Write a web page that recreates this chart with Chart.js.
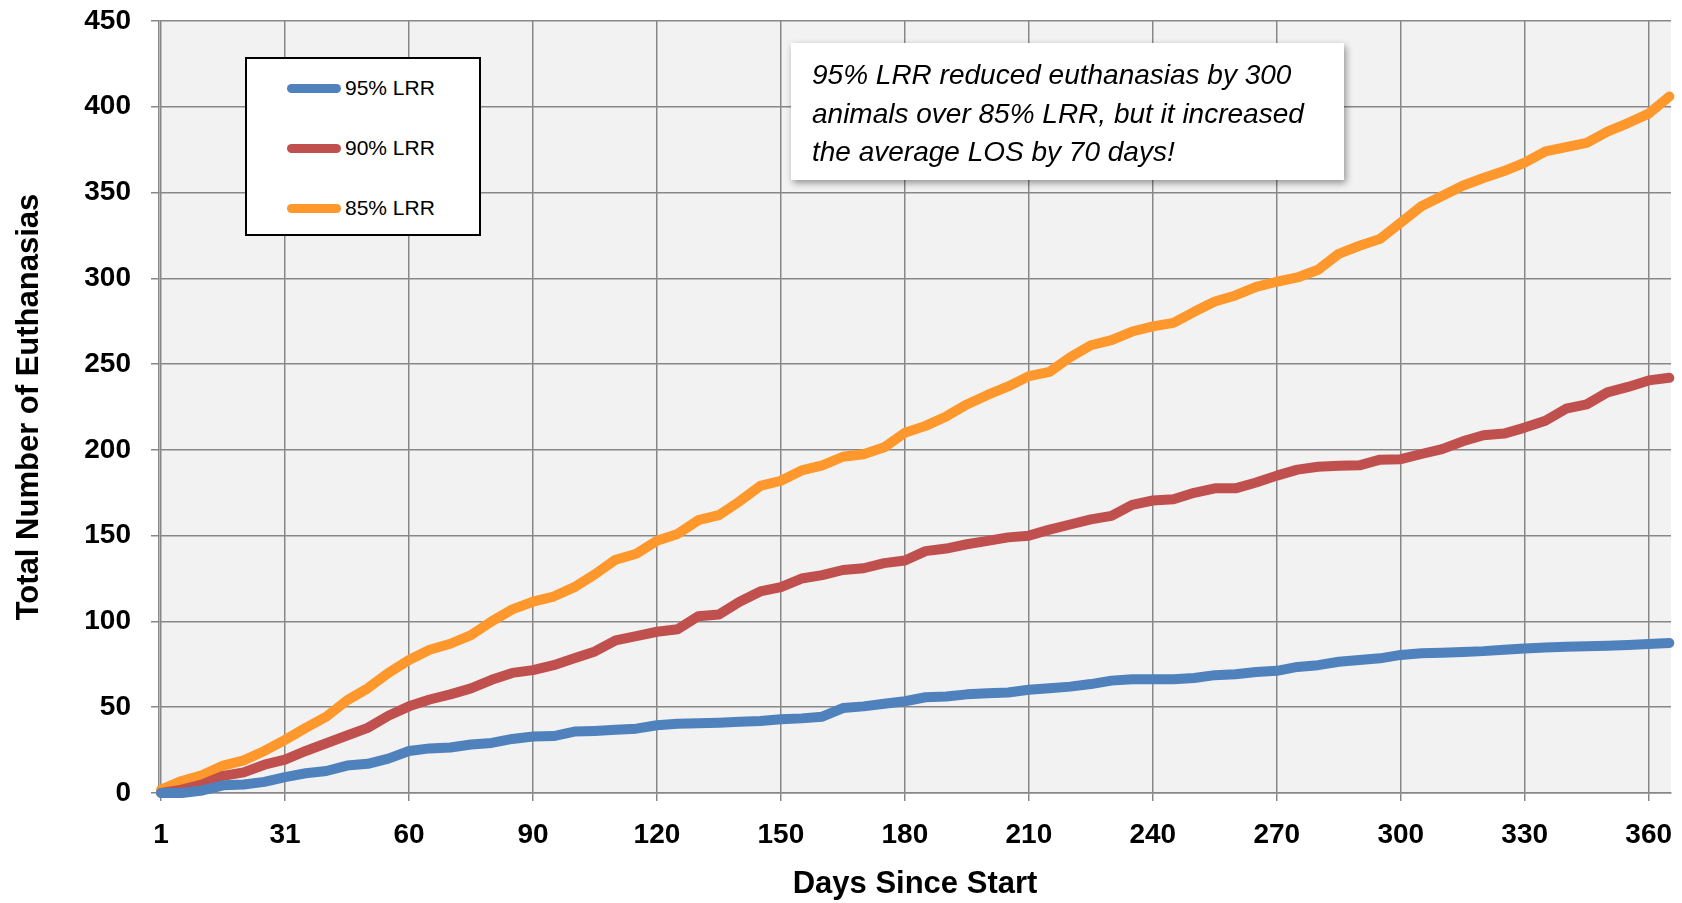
<!DOCTYPE html>
<html>
<head>
<meta charset="utf-8">
<title>Total Number of Euthanasias</title>
<script src="https://cdn.jsdelivr.net/npm/chart.js@4.4.1/dist/chart.umd.min.js"></script>
<style>
  html, body { margin: 0; padding: 0; background: #fff; }
  #wrap { position: relative; width: 1682px; height: 903px; }
  #legend {
    position: absolute; left: 245px; top: 57px; width: 232px; height: 175px;
    background: #fff; border: 2px solid #000;
    font: 21px "Liberation Sans", Arial, sans-serif; color: #000;
  }
  .lg-row { position: absolute; left: 40px; height: 30px; display: flex; align-items: center; }
  .lg-line { width: 54px; height: 9px; border-radius: 5px; margin-right: 4px; }
  #note {
    position: absolute; left: 791px; top: 43px; width: 553px; height: 137px;
    background: #fff; box-shadow: 2px 3px 7px rgba(0,0,0,0.4);
    font: italic 28px "Liberation Sans", Arial, sans-serif; color: #000;
    box-sizing: border-box; padding: 13px 0 0 21px; line-height: 38.5px;
  }
</style>
</head>
<body>
<div id="wrap">
  <canvas id="chart" width="1682" height="903"></canvas>
  <div id="legend"></div>
  <div id="note">95% LRR reduced euthanasias by 300<br>animals over 85% LRR, but it increased<br>the average LOS by 70 days!</div>
</div>
<script>
// dia (posição na categoria do eixo) onde os valores foram lidos
const days = [1, 6, 11, 16, 21, 26, 31, 36, 41, 46, 51, 56, 61, 66, 71, 76, 81, 86, 91, 96,
  101, 106, 111, 116, 121, 126, 131, 136, 141, 146, 151, 156, 161, 166, 171, 176, 181, 186, 191, 196,
  201, 206, 211, 216, 221, 226, 231, 236, 241, 246, 251, 256, 261, 266, 271, 276, 281, 286, 291, 296,
  301, 306, 311, 316, 321, 326, 331, 336, 341, 346, 351, 356, 361, 366];

const lrr95 = [0, 0, 1.5, 4.5, 5, 6.5, 9.3, 11.5, 12.8, 16, 17, 20, 24.5, 26, 26.5, 28.3, 29.2, 31.5, 32.9, 33.2,
  35.8, 36.2, 36.8, 37.5, 39.5, 40.3, 40.7, 41, 41.5, 42, 43, 43.5, 44.5, 49.5, 50.5, 52, 53.5, 55.8, 56.2, 57.5,
  58.2, 58.6, 60.2, 61, 62, 63.5, 65.5, 66.3, 66.3, 66.3, 67, 68.7, 69.2, 70.5, 71.2, 73.5, 74.5, 76.5, 77.5, 78.5,
  80.5, 81.5, 81.8, 82.2, 82.7, 83.5, 84.2, 84.8, 85.2, 85.5, 85.8, 86.2, 86.8, 87.5];

const lrr90 = [0, 2, 5, 10, 12, 16.5, 19.5, 24.5, 29, 33.5, 38, 45, 50.5, 54.5, 57.5, 61, 66, 70, 71.6, 74.5,
  78.5, 82.5, 89, 91.4, 94, 95.5, 103, 104, 111.5, 117.5, 120, 125, 127, 130, 131, 134, 135.5, 141, 142.5, 145,
  147, 149, 150, 153.5, 156.5, 159.5, 161.5, 168, 170.5, 171.2, 175, 177.6, 177.6, 181, 185, 188.5, 190.2, 190.7, 191, 194.3,
  194.6, 197.6, 200.4, 205, 208.5, 209.5, 213, 217, 224, 226.5, 233.5, 236.7, 240.5, 242];

const lrr85 = [2, 7, 10.5, 16, 19, 24.5, 31, 38, 44.5, 54, 61, 70, 77.5, 83.5, 87, 92, 100, 107, 111.5, 114.5,
  120, 127.5, 136, 139.5, 147, 151, 159, 162, 170, 179, 182, 188, 191, 196, 197.5, 201.5, 210, 214, 219.5, 226.5,
  232, 237, 243, 245.5, 254, 261, 264, 269, 272, 274, 280.5, 286.5, 290, 295, 298, 300.5, 305, 314.3, 319, 323,
  332.5, 342, 348, 354, 358.5, 362.5, 367.5, 374, 376.5, 379, 385.5, 390.5, 396, 406];

const seriesNames = ['95% LRR', '90% LRR', '85% LRR'];
const seriesColors = ['#4f81bd', '#c0504d', '#fe982c'];

const xTickPositions = [1, 31, 61, 91, 121, 151, 181, 211, 241, 271, 301, 331, 361];
const xTickLabels = ['1', '31', '60', '90', '120', '150', '180', '210', '240', '270', '300', '330', '360'];

const tickFont = { family: '"Liberation Sans", Arial, sans-serif', size: 28, weight: 'bold' };
const titleFont = { family: '"Liberation Sans", Arial, sans-serif', size: 31, weight: 'bold' };
const gridCor = '#878787';

// fundo cinza só dentro da área do gráfico
const fundoArea = {
    id: 'fundoArea',
    beforeDraw(chart) {
        const { ctx, chartArea: a } = chart;
        ctx.save();
        ctx.fillStyle = '#f2f2f2';
        ctx.fillRect(a.left, a.top, a.right - a.left, a.bottom - a.top);
        ctx.restore();
    }
};

function montarSerie(valores, i) {
    return {
        label: seriesNames[i],
        data: days.map((d, k) => ({ x: d, y: valores[k] })),
        borderColor: seriesColors[i],
        backgroundColor: seriesColors[i],
        borderWidth: 10,
        borderCapStyle: 'round',
        borderJoinStyle: 'round',
        pointRadius: 0,
        tension: 0,
        clip: 10
    };
}

const grafico = new Chart(document.getElementById('chart').getContext('2d'), {
    type: 'line',
    data: { datasets: [montarSerie(lrr95, 0), montarSerie(lrr90, 1), montarSerie(lrr85, 2)] },
    options: {
        responsive: false,
        animation: false,
        devicePixelRatio: 1,
        layout: { padding: { top: 21, right: 11, bottom: 0, left: 0 } },
        plugins: { legend: { display: false }, tooltip: { enabled: false } },
        scales: {
            x: {
                type: 'linear',
                min: 0.5,
                max: 366.4,
                afterBuildTicks: (scale) => { scale.ticks = xTickPositions.map(v => ({ value: v })); },
                afterFit: (scale) => {
                    scale.height = 110;
                    scale.paddingLeft = 0;
                    scale.paddingRight = 0;
                },
                ticks: {
                    autoSkip: false, maxRotation: 0, padding: 17, color: '#000', font: tickFont,
                    callback: (v) => xTickLabels[xTickPositions.indexOf(v)]
                },
                grid: { color: gridCor, lineWidth: 1.5, tickLength: 8 },
                border: { color: gridCor, width: 1.5 },
                title: { display: true, text: 'Days Since Start', color: '#000', font: titleFont, padding: { top: 0, bottom: 0 } }
            },
            y: {
                min: 0,
                max: 450,
                afterFit: (scale) => {
                    scale.width = 159;
                    scale.paddingTop = 0;
                    scale.paddingBottom = 0;
                },
                ticks: { stepSize: 50, padding: 20, color: '#000', font: tickFont },
                grid: { color: gridCor, lineWidth: 1.5, tickLength: 8 },
                border: { color: gridCor, width: 1.5 },
                title: { display: true, text: 'Total Number of Euthanasias', color: '#000', font: titleFont, padding: { top: 11, bottom: 0 } }
            }
        }
    },
    plugins: [fundoArea]
});

// legenda em caixa, montada a partir das séries
const legenda = document.getElementById('legend');
legenda.innerHTML = grafico.data.datasets.map((ds, i) => `
    <div class="lg-row" style="top:${14 + i * 60}px">
        <div class="lg-line" style="background:${ds.borderColor}"></div>${ds.label}
    </div>`).join('');
</script>
</body>
</html>
